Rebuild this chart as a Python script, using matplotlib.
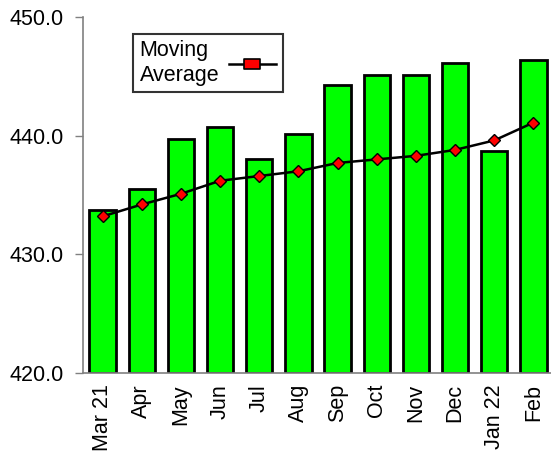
import matplotlib
matplotlib.use("Agg")
import matplotlib.pyplot as plt
from matplotlib.lines import Line2D
from matplotlib.path import Path

plt.rcParams['font.family'] = ['Liberation Sans', 'DejaVu Sans']

categories = ["Mar 21", "Apr", "May", "Jun", "Jul", "Aug", "Sep", "Oct", "Nov", "Dec", "Jan 22", "Feb"]
values = [433.7, 435.5, 439.7, 440.7, 438.0, 440.1, 444.3, 445.1, 445.1, 446.1, 438.7, 446.4]
moving_avg = [433.2, 434.2, 435.1, 436.2, 436.6, 437.0, 437.7, 438.0, 438.3, 438.8, 439.6, 441.1]
yticks = [420.0, 430.0, 440.0, 450.0]

fig = plt.figure(figsize=(5.51, 4.53), dpi=100)
ax = fig.add_axes([83/551, 80/453, 470/551, 356/453])

x = list(range(len(categories)))
ax.bar(x, [v - 420 for v in values], bottom=420, width=0.67, color='#00ff00',
       edgecolor='black', linewidth=2, zorder=2)
ax.plot(x, moving_avg, color='black', linewidth=1.8, marker='D', markersize=6,
        markerfacecolor='red', markeredgecolor='black', markeredgewidth=1, zorder=3)

ax.set_xlim(-0.5, 11.5)
ax.set_ylim(420, 450)
ax.set_yticks(yticks)
ax.set_yticklabels([f"{t:.1f}" for t in yticks], fontsize=15.5)
ax.set_xticks(x)
ax.set_xticklabels(categories, rotation=90, fontsize=15.5)
ax.tick_params(axis='x', length=0, pad=8)
ax.tick_params(axis='y', length=6, width=1, color='#808080', direction='out', pad=8)
for s in ['top', 'right']:
    ax.spines[s].set_visible(False)
for s in ['left', 'bottom']:
    ax.spines[s].set_color('#808080')
    ax.spines[s].set_linewidth(1.2)

rect = Path([(-1, -0.62), (1, -0.62), (1, 0.62), (-1, 0.62), (-1, -0.62)],
            [Path.MOVETO, Path.LINETO, Path.LINETO, Path.LINETO, Path.CLOSEPOLY])
handle = Line2D([], [], color='black', linewidth=1.8, marker=rect, markersize=12,
                markerfacecolor='red', markeredgecolor='black', markeredgewidth=1.2)
leg = ax.legend([handle], ["Moving\nAverage"], loc='upper left',
                bbox_to_anchor=((133-83)/470, (373-34)/356),
                markerfirst=False, fontsize=15.5, frameon=True, fancybox=False,
                edgecolor='black', handlelength=2.2, borderpad=0.3,
                handletextpad=0.45, borderaxespad=0)
leg.get_frame().set_linewidth(1.5)

fig.savefig("out.png", dpi=100)
